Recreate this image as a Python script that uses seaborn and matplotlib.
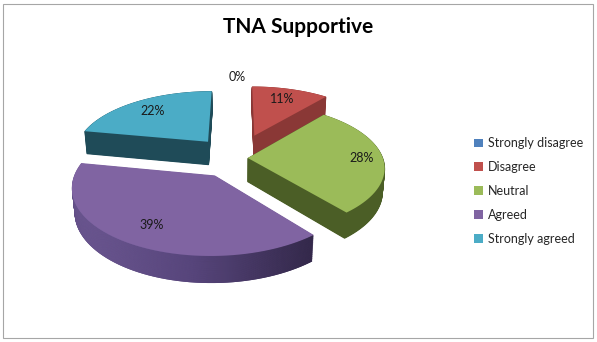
import numpy as np
import matplotlib
matplotlib.use("Agg")
import matplotlib.pyplot as plt
import matplotlib.transforms as mtransforms
from matplotlib.path import Path
from matplotlib.patches import Patch, Rectangle
from matplotlib.colors import LinearSegmentedColormap
import seaborn as sns

# ---- data ----
categories = ["Strongly disagree", "Disagree", "Neutral", "Agreed", "Strongly agreed"]
values = [0, 11, 28, 39, 22]
title = "TNA Supportive"

# ---- style ----
top_colors = ["#4F81BD", "#C0504D", "#9BBB59", "#8064A2", "#4BACC6"]
side_colors = ["#2C4D75", "#8A3836", "#4B5E26", "#4F3E6E", "#1F4B58"]
explode = [0.0, 0.40, 0.08, 0.31, 0.35]
label_dist = [1.6, 0.76, 0.84, 0.76, 0.76]
# wall shading (light -> dark, left to right) for the front slice
shade_idx = 3
shade_cmap = LinearSegmentedColormap.from_list("wall", ["#7862A0", "#5A4880", "#2C2340"])

sns.set_theme(style="white")
plt.rcParams['font.family'] = ['Lato', 'DejaVu Sans']

W, H = 597, 342
SIN_PHI = 0.464
K = 0.15
COS_PHI = np.sqrt(1 - SIN_PHI ** 2)
DIST = COS_PHI / K
SCALE = 135.0
CX, CY = 237.0, 158.0
DEPTH = 0.20
NLAYERS = 40


class Perspective(mtransforms.Transform):
    """Project the flat pie (x, y, z) onto a tilted view with perspective."""
    input_dims = 2
    output_dims = 2
    is_separable = False
    has_inverse = False

    def __init__(self, z=0.0):
        super().__init__()
        self.z = z

    def transform_non_affine(self, values):
        v = np.asarray(values, dtype=float).reshape(-1, 2)
        X, Y = v[:, 0], v[:, 1]
        w = 1.0 + (Y * COS_PHI - self.z * SIN_PHI) / DIST
        ys = Y * SIN_PHI + self.z * COS_PHI
        return np.column_stack([X / w, ys / w])

    def transform_path_non_affine(self, path):
        big = 1000.0
        polys = path.to_polygons(transform=mtransforms.Affine2D().scale(big),
                                 closed_only=True)
        paths = [Path(self.transform_non_affine(np.asarray(p) / big), closed=True)
                 for p in polys if len(p) > 2]
        if not paths:
            return Path(np.empty((0, 2)))
        return Path.make_compound_path(*paths)


fig = plt.figure(figsize=(W / 100, H / 100), dpi=100)
fig.patch.set_facecolor("white")
ax = fig.add_axes([0, 0, 1, 1])

gradient = np.linspace(0, 1, 256).reshape(1, -1)

# side walls: stacked darker pies going downward
for z in np.linspace(-DEPTH, 0, NLAYERS, endpoint=False):
    persp = Perspective(z)
    wedges, _ = ax.pie(values, colors=side_colors, explode=explode,
                       startangle=90, counterclock=False,
                       wedgeprops=dict(linewidth=0.8))
    tr = persp + ax.transData
    for wdg, val in zip(wedges, values):
        wdg.set_edgecolor(wdg.get_facecolor())
        wdg.set_transform(tr)
        if val == 0:
            wdg.set_visible(False)
    # shaded wall for the front slice
    wdg = wedges[shade_idx]
    wdg.set_linewidth(0)
    ext = persp.transform_path(wdg.get_path()).get_extents()
    im = ax.imshow(gradient, cmap=shade_cmap, aspect="auto",
                   extent=(ext.x0, ext.x1, ext.y0, ext.y1),
                   interpolation="bilinear", zorder=wdg.get_zorder())
    im.set_clip_path(wdg)

# top faces
wedges, texts, autotexts = ax.pie(values, colors=top_colors, explode=explode,
                                  startangle=90, counterclock=False,
                                  autopct=lambda p: f"{p:.0f}%", pctdistance=0.76,
                                  wedgeprops=dict(linewidth=0),
                                  textprops=dict(fontsize=9, color="#1a1a1a"))
tr_top = Perspective(0.0) + ax.transData
for wdg, val in zip(wedges, values):
    wdg.set_transform(tr_top)
    if val == 0:
        wdg.set_visible(False)
for wdg, dist, t in zip(wedges, label_dist, autotexts):
    t.set_transform(tr_top)
    ang = np.deg2rad((wdg.theta1 + wdg.theta2) / 2)
    t.set_position((wdg.center[0] + dist * np.cos(ang),
                    wdg.center[1] + dist * np.sin(ang)))

ax.set_aspect("auto")
ax.set_xlim((0 - CX) / SCALE, (W - CX) / SCALE)
ax.set_ylim((CY - H) / SCALE, CY / SCALE)
ax.axis("off")

fig.text(298 / W, 1 - 27 / H, title, ha="center", va="center",
         fontsize=15, fontweight="bold", color="black")

handles = [Patch(facecolor=c, edgecolor="none") for c in top_colors]
fig.legend(handles, categories, loc="center left",
           bbox_to_anchor=(474 / W, 1 - 191 / H), frameon=False, fontsize=9,
           handlelength=0.7, handleheight=0.7, handletextpad=0.4,
           labelspacing=0.95, borderaxespad=0, borderpad=0)

fig.add_artist(Rectangle((3 / W, 4 / H), 590 / W, 334 / H,
                         transform=fig.transFigure, fill=False,
                         edgecolor="#a6a6a6", linewidth=0.8))

fig.savefig("out.png", dpi=100)
